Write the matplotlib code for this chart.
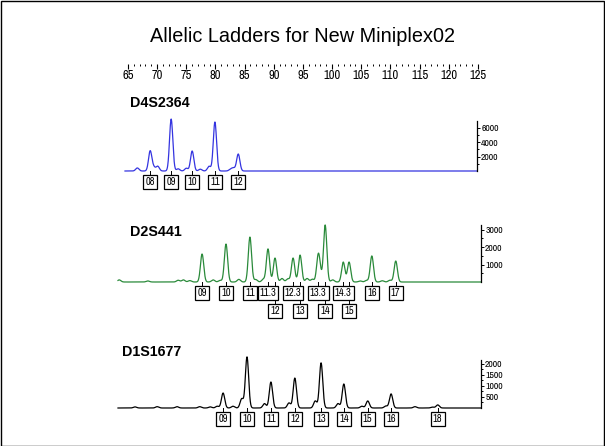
import numpy as np
import matplotlib
matplotlib.use("Agg")
import matplotlib.pyplot as plt
from matplotlib import font_manager
from matplotlib.transforms import blended_transform_factory
from matplotlib.patches import Rectangle
from matplotlib.lines import Line2D

# ---------------- data ----------------
ruler_ticks = [65, 70, 75, 80, 85, 90, 95, 100, 105, 110, 115, 120, 125]

d4_name = "D4S2364"
d4_alleles = ["08", "09", "10", "11", "12"]
d4_bp = [68.8, 72.4, 76.0, 79.9, 83.9]
d4_height = [2760, 7170, 2760, 6760, 2340]
d4_minor_bp = [66.6, 69.4, 70.1, 73.6, 75.0, 77.4, 78.9, 82.6, 83.1]
d4_minor_h = [420, 500, 650, 300, 380, 250, 650, 250, 380]
d4_yticks = [2000, 4000, 6000]

d2_name = "D2S441"
d2_alleles = ["09", "10", "11", "11.3", "12", "12.3", "13", "13.3", "14",
              "14.3", "15", "16", "17"]
d2_bp = [77.7, 81.8, 85.9, 89.0, 90.2, 93.3, 94.5, 97.6, 98.8,
         101.9, 102.9, 106.8, 110.9]
d2_height = [1600, 2170, 2570, 1890, 1370, 1370, 1540, 1370, 3260,
             1140, 1140, 1490, 1200]
d2_row = [0, 0, 0, 0, 1, 0, 1, 0, 1, 0, 1, 0, 0]
d2_minor_bp = [63.5, 68.4, 73.6, 74.5, 75.6, 79.6, 80.8, 84.0, 86.9, 88.2,
               91.4, 92.4, 95.7, 96.6, 97.9, 100.1, 104.8, 105.9, 108.6, 109.9]
d2_minor_h = [120, 60, 100, 120, 80, 120, 90, 150, 140, 150,
              200, 180, 200, 160, 450, 120, 60, 90, 70, 100]
d2_yticks = [1000, 2000, 3000]

d1_name = "D1S1677"
d1_alleles = ["09", "10", "11", "12", "13", "14", "15", "16", "18"]
d1_bp = [81.3, 85.4, 89.5, 93.6, 98.1, 102.0, 106.1, 110.1, 118.1]
d1_height = [680, 2320, 1180, 1360, 2050, 1090, 320, 640, 140]
d1_minor_bp = [66.2, 70.0, 73.4, 77.3, 79.1, 80.3, 83.0, 84.5, 88.4,
               92.6, 97.1, 101.0, 105.1, 109.2, 114.2, 117.2]
d1_minor_h = [50, 60, 60, 60, 50, 80, 80, 420, 200, 230, 320, 200, 80, 90, 60, 40]
d1_yticks = [500, 1000, 1500, 2000]

title = "Allelic Ladders for New Miniplex02"

# ---------------- fonts ----------------
main_font = "Liberation Sans"


def _is_regular(f):
    w = f.weight
    if isinstance(w, (int, float)):
        return w <= 450
    return str(w).lower() in ("normal", "regular", "book", "400")


narrow = None
cands = []
for f in font_manager.fontManager.ttflist:
    st = str(f.stretch).lower()
    nm = f.name.lower()
    if ("narrow" in nm or "condensed" in nm or st in ("condensed", "semi-condensed")) \
            and _is_regular(f) and f.style == "normal" and "bold" not in f.fname.lower():
        cands.append(f)
cands.sort(key=lambda f: (0 if "narrow" in f.name.lower() else 1, f.fname))
if cands:
    narrow = cands[0]


def nprops(size):
    if narrow is not None:
        fp = font_manager.FontProperties(fname=narrow.fname, size=size)
        return dict(fontproperties=fp)
    return dict(family=main_font, fontsize=size * 0.88)


W, H = 605, 446
fig = plt.figure(figsize=(W / 100, H / 100), dpi=100)
fig.patch.set_facecolor("white")

PX0, PXS = 128.0, 350.0 / 60.0  # pixel of 65 bp, pixels per bp


def bp_of(px):
    return 65 + (px - PX0) / PXS


def ax_px(left, top, right, bottom):
    return fig.add_axes([left / W, 1 - bottom / H, (right - left) / W, (bottom - top) / H])


AX_L, AX_R = 100, 505
XLIM = (bp_of(AX_L), bp_of(AX_R))

# title
fig.text(302 / W, 1 - 37 / H, title, ha="center", va="center",
         fontsize=14.3, family=main_font)

# ruler
rax = ax_px(AX_L, 64, AX_R, 69)
rax.set_xlim(*XLIM)
rax.set_ylim(0, 1)
for s in rax.spines.values():
    s.set_visible(False)
rax.set_yticks([])
rax.set_xticks(ruler_ticks)
rax.set_xticklabels([str(t) for t in ruler_ticks], **nprops(9))
rax.tick_params(axis="x", which="major", direction="in", length=3.6, width=0.8, pad=1.0)
minor = [t for t in range(65, 126) if t % 5 != 0]
rax.set_xticks(minor, minor=True)
rax.tick_params(axis="x", which="minor", direction="in", length=1.4, width=0.7,
                bottom=False, top=True)


def panel(name, name_xy, alleles, bp, height, minor_bp, minor_h, rows, yticks,
          color, base_px, top_px, ymax, axis_px, x_start_px, box_px, row2_px,
          sigma=0.28):
    ax = ax_px(AX_L, top_px, AX_R, base_px)
    ax.set_xlim(*XLIM)
    ax.set_ylim(0, ymax)
    x0 = bp_of(x_start_px)
    xa = bp_of(axis_px)
    x = np.arange(x0, xa, 0.03)
    y = np.zeros_like(x)
    for c, h in zip(list(bp) + list(minor_bp), list(height) + list(minor_h)):
        y += h * np.exp(-0.5 * ((x - c) / sigma) ** 2)
    ax.plot(x, y, color=color, lw=0.9, clip_on=False)
    for k, s in ax.spines.items():
        s.set_visible(k == "right")
    ax.spines["right"].set_position(("data", xa))
    ax.spines["right"].set_linewidth(0.9)
    ax.set_xticks([])
    ax.yaxis.tick_right()
    ax.set_yticks(yticks)
    ax.set_yticklabels([str(t) for t in yticks], **nprops(7))
    step = yticks[1] - yticks[0]
    mt = [t + step / 2 for t in [0] + list(yticks) if t + step / 2 < ymax]
    ax.set_yticks(mt, minor=True)
    ax.tick_params(axis="y", which="major", direction="out", length=2.5, width=0.7, pad=0.5)
    ax.tick_params(axis="y", which="minor", direction="out", length=1.5, width=0.7)
    ax.patch.set_visible(False)

    fig.text(name_xy[0] / W, 1 - name_xy[1] / H, name, ha="left", va="center",
             fontsize=10.3, fontweight="bold", family=main_font)

    tr = blended_transform_factory(ax.transData, fig.transFigure)
    for lab, b, r in zip(alleles, bp, rows):
        cy = box_px if r == 0 else row2_px
        fig.add_artist(Line2D([b, b], [1 - base_px / H, 1 - (cy - 5) / H],
                              transform=tr, color="black", lw=0.7))
        fig.text(b, 1 - cy / H, lab, transform=tr, ha="center", va="center",
                 **nprops(7.5),
                 bbox=dict(boxstyle="square,pad=0.2", fc="white", ec="black", lw=0.9))
    return ax


panel(d4_name, (130, 103), d4_alleles, d4_bp, d4_height, d4_minor_bp, d4_minor_h,
      [0] * len(d4_alleles), d4_yticks, "#3434e0", 171, 121, 6900, 477, 125, 182, None)
panel(d2_name, (130, 232), d2_alleles, d2_bp, d2_height, d2_minor_bp, d2_minor_h,
      d2_row, d2_yticks, "#2a8a3a", 282, 225, 3260, 481, 118, 293, 311)
panel(d1_name, (122, 352), d1_alleles, d1_bp, d1_height, d1_minor_bp, d1_minor_h,
      [0] * len(d1_alleles), d1_yticks, "black", 408, 360, 2180, 481, 118, 419, None)

fig.add_artist(Rectangle((0.5 / W, 0.5 / H), 1 - 1.5 / W, 1 - 1.5 / H,
                         transform=fig.transFigure, fill=False, ec="black", lw=1))

fig.savefig("out.png", dpi=100)
